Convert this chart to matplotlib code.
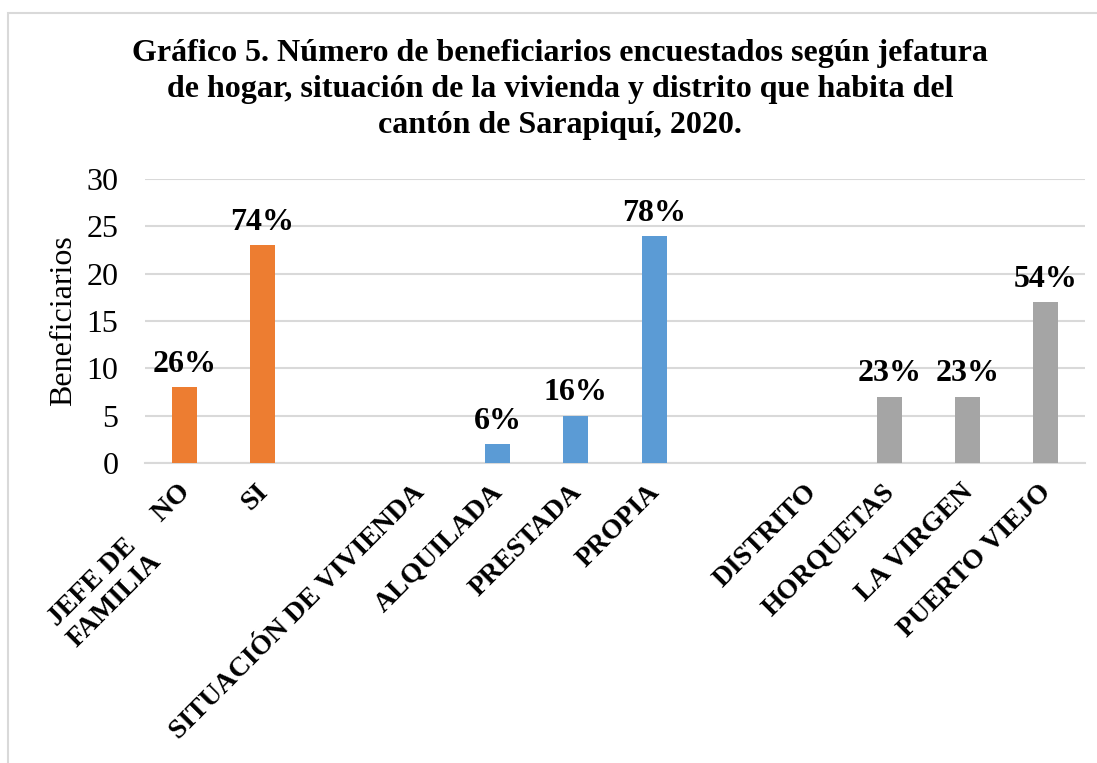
import matplotlib
matplotlib.use("Agg")
import matplotlib.pyplot as plt
import matplotlib.transforms as mtransforms
from matplotlib.patches import Rectangle

categories = ["JEFE DE     NO\nFAMILIA", "SI", "", "SITUACIÓN DE VIVIENDA",
              "ALQUILADA", "PRESTADA", "PROPIA", "", "DISTRITO",
              "HORQUETAS", "LA VIRGEN", "PUERTO VIEJO"]
values = [8, 23, 0, 0, 2, 5, 24, 0, 0, 7, 7, 17]
pct_labels = ["26%", "74%", "", "", "6%", "16%", "78%", "", "", "23%", "23%", "54%"]
groups = ["jefe", "jefe", "none", "none", "viv", "viv", "viv", "none", "none",
          "dist", "dist", "dist"]
group_colors = {"jefe": "#ED7D31", "viv": "#5B9BD5", "dist": "#A5A5A5", "none": "none"}
yticks = [0, 5, 10, 15, 20, 25, 30]
title = ("Gráfico 5. Número de beneficiarios encuestados según jefatura\n"
         "de hogar, situación de la vivienda y distrito que habita del\n"
         "cantón de Sarapiquí, 2020.")

plt.rcParams["font.family"] = ["Liberation Serif", "DejaVu Serif"]

W, H = 1097, 763
fig = plt.figure(figsize=(W / 100, H / 100), dpi=100)
ax = fig.add_axes([145 / W, 1 - 463 / H, (1085 - 145) / W, (463 - 179) / H])

# outer chart frame
fig.patches.append(Rectangle((8 / W, -0.05), 1.2, 1 - 13 / H + 0.05,
                             transform=fig.transFigure, fill=False,
                             edgecolor="#d9d9d9", linewidth=1.5))

x = list(range(len(categories)))
colors = [group_colors[g] for g in groups]
ax.bar(x, values, width=0.32, color=colors, zorder=3)

for xi, v, lab in zip(x, values, pct_labels):
    if lab:
        ax.annotate(lab, (xi, v), xytext=(0, 11), textcoords="offset points",
                    ha="center", va="baseline", fontsize=23, fontweight="bold")

ax.set_xlim(-0.5, len(categories) - 0.5)
ax.set_ylim(0, 30)
ax.set_yticks(yticks)
ax.yaxis.grid(True, color="#d9d9d9", linewidth=1.5, zorder=0)
ax.set_axisbelow(True)
for s in ["top", "right", "left"]:
    ax.spines[s].set_visible(False)
ax.spines["bottom"].set_color("#d9d9d9")
ax.spines["bottom"].set_linewidth(1.5)
ax.tick_params(axis="both", length=0)
ax.tick_params(axis="y", labelsize=23, pad=19)

ax.set_xticks(x)
ax.set_xticklabels(categories, rotation=45, ha="right", va="top",
                   rotation_mode="anchor", fontsize=20, fontweight="bold",
                   multialignment="left", linespacing=1.2)
ax.tick_params(axis="x", pad=12)
offset = mtransforms.ScaledTranslation(-7 / 100, 0, fig.dpi_scale_trans)
for lbl in ax.get_xticklabels():
    lbl.set_transform(lbl.get_transform() + offset)

ax.set_ylabel("Beneficiarios", fontsize=23, labelpad=6)

fig.text(560 / W, 1 - 39 / H, title, ha="center", va="top", fontsize=23,
         fontweight="bold", linespacing=1.32)

fig.savefig("out.png", dpi=100)
